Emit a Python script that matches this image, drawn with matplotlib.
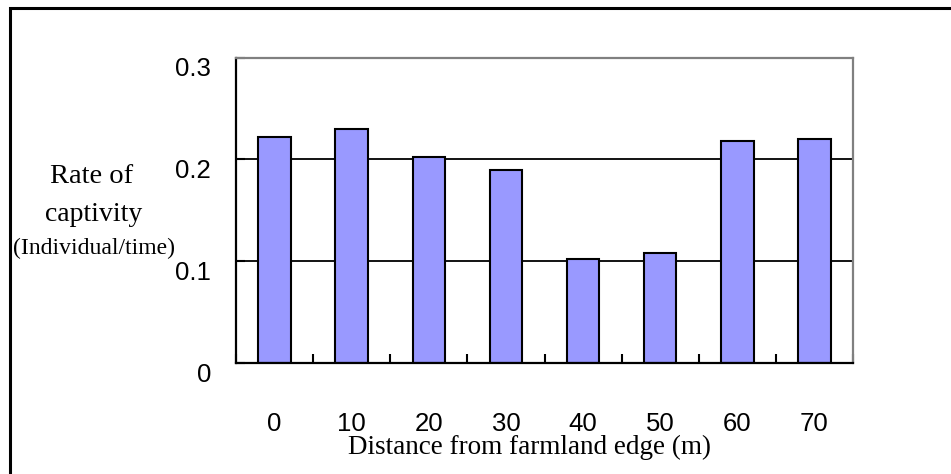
import matplotlib
matplotlib.use("Agg")
import matplotlib.pyplot as plt
import numpy as np
from matplotlib.patches import Rectangle

categories = ["0", "10", "20", "30", "40", "50", "60", "70"]
values = [0.222, 0.230, 0.202, 0.190, 0.102, 0.108, 0.218, 0.220]
yticks = [0, 0.1, 0.2, 0.3]
ytick_labels = ["0", "0.1", "0.2", "0.3"]

W, H = 951, 474
fig = plt.figure(figsize=(W / 100, H / 100), dpi=100)
fig.patch.set_facecolor("white")

# outer frame (only left and top edges visible in the reference)
fig.patches.append(Rectangle((10 / W, -0.2), 1.5, 1.2 - 8 / H, transform=fig.transFigure,
                             fill=False, edgecolor="black", linewidth=2.2, clip_on=False))

ax = fig.add_axes([236 / W, 1 - 363 / H, (853 - 236) / W, (363 - 57.5) / H])

x = np.arange(len(categories))
ax.bar(x, values, width=0.42, color="#9999FF", edgecolor="black", linewidth=1.5, zorder=3)

ax.set_xlim(-0.5, len(categories) - 0.5)
ax.set_ylim(0, 0.3)

ax.set_yticks(yticks)
ax.set_yticklabels(ytick_labels, fontfamily="Liberation Sans", fontsize=18.5)
for lab in ax.get_yticklabels():
    lab.set_va("top")
ax.yaxis.grid(True, color="black", linewidth=1.3, zorder=1)
ax.set_axisbelow(True)
ax.tick_params(axis="y", direction="in", length=6.5, width=1.5, pad=18, colors="black")

ax.set_xticks(x)
ax.set_xticklabels(categories, fontfamily="Liberation Sans", fontsize=18.5)
ax.tick_params(axis="x", which="major", length=0, pad=35)
ax.set_xticks(np.arange(len(categories) + 1) - 0.5, minor=True)
ax.tick_params(axis="x", which="minor", direction="in", length=6.5, width=1.5)

for s in ["left", "bottom"]:
    ax.spines[s].set_color("black")
    ax.spines[s].set_linewidth(1.6)
    ax.spines[s].set_zorder(4)
for s in ["top", "right"]:
    ax.spines[s].set_color("#808080")
    ax.spines[s].set_linewidth(1.6)
    ax.spines[s].set_zorder(4)

ax.set_xlabel("Distance from farmland edge (m)", fontfamily="Liberation Serif", fontsize=19.5)
ax.xaxis.set_label_coords((529 - 236) / (853 - 236), (363 - 447) / (363 - 57.5))
ax.xaxis.label.set_va("center")

serif = "Liberation Serif"
fig.text(92 / W, 1 - 183 / H, "Rate of", fontfamily=serif, fontsize=20.5, ha="center", va="baseline")
fig.text(94 / W, 1 - 221 / H, "captivity", fontfamily=serif, fontsize=20, ha="center", va="baseline")
fig.text(94 / W, 1 - 254 / H, "(Individual/time)", fontfamily=serif, fontsize=17, ha="center", va="baseline")

fig.savefig("out.png", dpi=100, facecolor="white")
